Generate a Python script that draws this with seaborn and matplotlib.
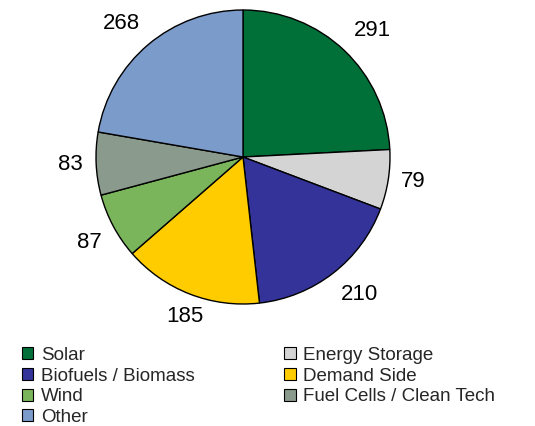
import matplotlib
matplotlib.use("Agg")
import numpy as np
import matplotlib.pyplot as plt
import seaborn as sns
from matplotlib.patches import Patch

categories = ["Solar", "Energy Storage", "Biofuels / Biomass", "Demand Side",
              "Wind", "Fuel Cells / Clean Tech", "Other"]
values = [291, 79, 210, 185, 87, 83, 268]
colors = ["#006F38", "#D4D4D4", "#333399", "#FFCC00", "#7AB55C", "#8A9A8C", "#7B9BCA"]

sns.set_style("white")
plt.rcParams['font.family'] = ['Liberation Sans', 'DejaVu Sans']

fig = plt.figure(figsize=(5.35, 4.26), dpi=100)
# pie centre ~ (243,157) px, radius ~147 px
ax = fig.add_axes([(243 - 147) / 535, (426 - 157 - 147) / 426, 294 / 535, 294 / 426])

wedges, texts = ax.pie(values, colors=colors, startangle=90, counterclock=False,
                       labels=[str(v) for v in values], labeldistance=1.09,
                       wedgeprops=dict(edgecolor="black", linewidth=1.0),
                       textprops=dict(fontsize=16, color="black"))
ax.set_xlim(-1, 1)
ax.set_ylim(-1, 1)
ax.set_aspect("equal")

# outside-end style: anchor the label's nearest corner to the pie
for w, t in zip(wedges, texts):
    ang = np.radians((w.theta1 + w.theta2) / 2)
    c, s = np.cos(ang), np.sin(ang)
    t.set_ha("left" if c > 0.4 else ("right" if c < -0.4 else "center"))
    t.set_va("bottom" if s > 0.3 else ("top" if s < -0.3 else "center"))

# legend in row order: two columns
order = [0, 2, 4, 6, 1, 3, 5]
handles = [Patch(facecolor=colors[i], edgecolor="black", linewidth=0.8) for i in order]
labels = [categories[i] for i in order]
fig.legend(handles, labels, ncol=2, loc="upper left", bbox_to_anchor=(0.041, 0.186),
           frameon=False, fontsize=13.5, handlelength=0.6, handleheight=0.6,
           handletextpad=0.4, labelspacing=0.2, columnspacing=4.8,
           borderaxespad=0, borderpad=0)

fig.savefig("out.png", dpi=100)
